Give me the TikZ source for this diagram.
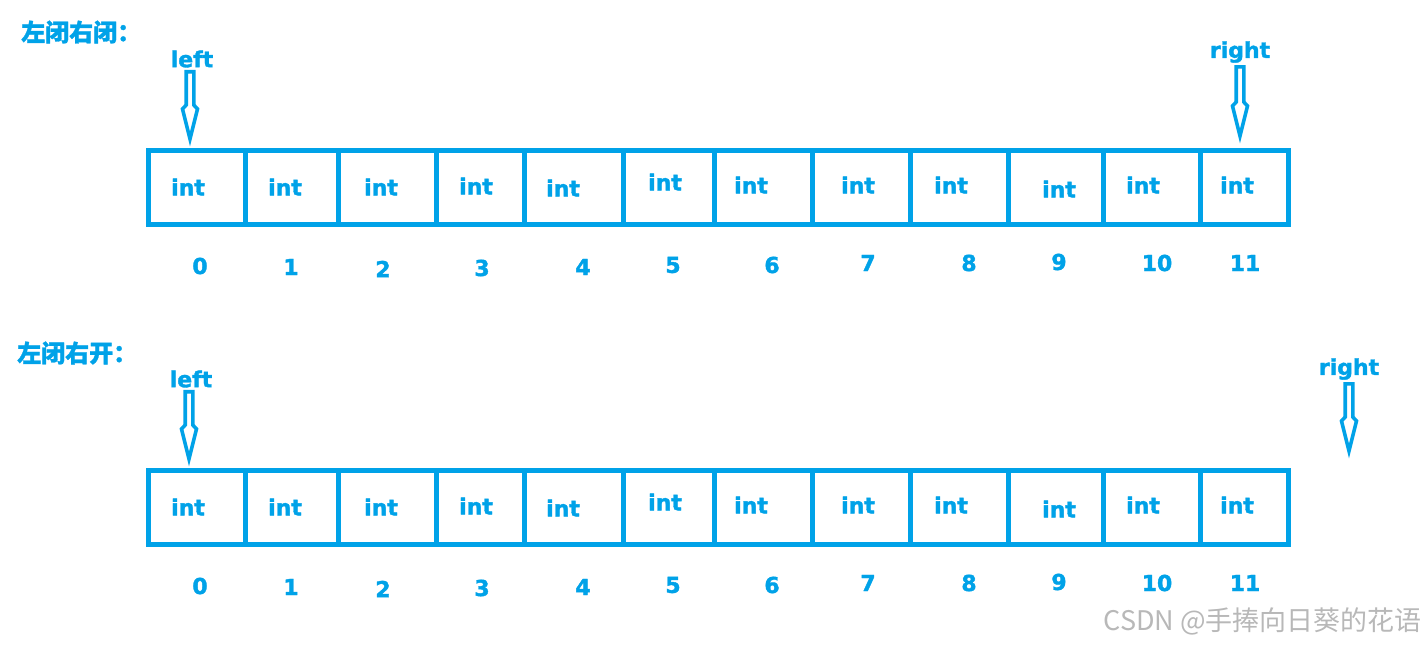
\documentclass[tikz,border=0pt]{standalone}
\usepackage{fontspec}
\setmainfont{DejaVu Sans}[BoldFeatures={FakeBold=1.6}]
\newfontfamily\cjk{Noto Sans CJK SC}[BoldFeatures={FakeBold=1.2}]
\usepackage{xcolor}
\usepackage{tikz}
\usetikzlibrary{calc}
\definecolor{paintblue}{RGB}{0,162,232}

\begin{document}
\begin{tikzpicture}[x=1pt,y=-1pt]
        \tikzstyle{cell} = [draw=paintblue,line width=5pt,minimum height=74pt,inner sep=0pt]
        \tikzstyle{word} = [text=paintblue,font=\fontsize{22}{26}\selectfont\bfseries,inner sep=0pt]
        \tikzstyle{title} = [text=paintblue,font=\cjk\fontsize{24}{28}\selectfont\bfseries,inner sep=0pt,anchor=west]
        \tikzstyle{pointer} = [draw=paintblue,line width=3.6pt,line join=miter]
        \tikzstyle{wmark} = [text=black!28,font=\cjk\fontsize{27}{30}\selectfont,inner sep=0pt,anchor=east]
        %
        \useasboundingbox (0,0) rectangle (1427,647);
        % Both arrays.
        \foreach \r/\dy in {t/0,b/320} {
          \foreach \i/\a/\b/\tx/\ty/\nx/\ny in {0/148/245/188/187/200/266, 1/245/338/285/187/291/267,
              2/338/436/381/187/383/269, 3/436/524/476/186/482/268, 4/524/623/563/188/583/267,
              5/623/714/665/182/673/265, 6/714/812/751/185/772/265, 7/812/910/858/185/868/263,
              8/910/1008/951/185/969/263, 9/1008/1103/1059/189/1059/262, 10/1103/1200/1143/185/1157/263,
              11/1200/1288/1237/185/1245/263} {
            \node[cell,minimum width={\b-\a}] (\r\i) at ({(\a+\b)/2},{187.5+\dy}) {};
            \node[word] (\r int\i) at (\tx,{\ty+\dy}) {int};
            \node[word] (\r num\i) at (\nx,{\ny+\dy}) {\i};
          }
        }
        % First array.
        \node[title] (closed) at (21,32) {左闭右闭：};
        \node[word] (tleft) at (192,59) {left};
        \node[word] (tright) at (1240,52) {right};
        \coordinate (ttip1) at (190,139);
        \coordinate (ttip2) at (1240,136);
        % Second array.
        \node[title] (open) at (17,353) {左闭右开：};
        \node[word] (bleft) at (191,379) {left};
        \node[word] (bright) at (1349,369) {right};
        \coordinate (btip1) at (189,459);
        \coordinate (btip2) at (1349,451);
        % Hollow arrows.
        \foreach \s/\e in {tleft/ttip1, tright/ttip2, bleft/btip1, bright/btip2} {
          \draw[pointer] let \p1=(\s.south), \p2=(\e) in
            (\x2-3.8pt,\y1-4pt) -- (\x2-3.8pt,\y2+34pt) -- (\x2-7.5pt,\y2+30pt) -- (\x2,\y2)
            -- (\x2+7.5pt,\y2+30pt) -- (\x2+3.8pt,\y2+34pt) -- (\x2+3.8pt,\y1-4pt) -- cycle;
        }
        \node[wmark] (watermark) at (1422,621) {CSDN @手捧向日葵的花语};
\end{tikzpicture}
\end{document}
